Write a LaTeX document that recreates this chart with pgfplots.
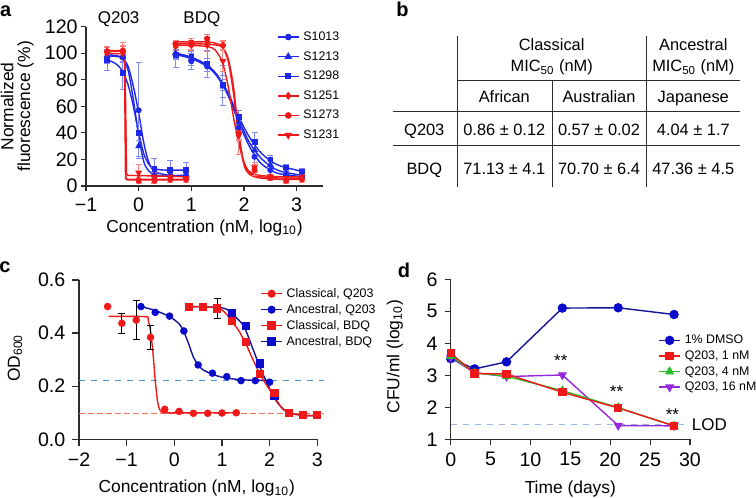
\documentclass[border=0pt]{standalone}
\usepackage{fontspec}
\setmainfont{Liberation Sans}
\usepackage{pgfplots}
\pgfplotsset{compat=1.18}
\definecolor{aBlue}{RGB}{30,40,235}
\definecolor{aRed}{RGB}{240,25,25}
\definecolor{cNavy}{RGB}{20,20,150}
\definecolor{cBlue}{RGB}{10,10,205}
\definecolor{dashBlue}{RGB}{70,150,210}
\definecolor{salmonline}{RGB}{248,110,90}
\definecolor{dGreen}{RGB}{40,190,40}
\definecolor{dPurple}{RGB}{150,40,220}
\definecolor{lodBlue}{RGB}{150,185,225}
\definecolor{axGray}{RGB}{45,45,45}
\pgfplotsset{
  gp/.style={scale only axis, anchor=south west,
    axis x line*=bottom, axis y line*=left,
    axis line style={-, axGray, line width=0.6pt},
    tick style={axGray, line width=0.6pt}, tick align=outside,
    tick label style={font=\fontsize{9.8}{10}\selectfont},
    /pgf/number format/assume math mode=true,
    label style={font=\fontsize{8.7}{8.3}\selectfont},
    clip=false, legend cell align=left,
    legend style={draw=none, fill=none, font=\fontsize{6.2}{7}\selectfont, inner sep=0pt,
      anchor=north west, nodes={inner ysep=0pt, text height=4.5pt, text depth=1pt}},
    legend image code/.code={\draw[mark repeat=2,mark phase=2] plot coordinates {(0pt,0pt) (5.2pt,0pt) (10.4pt,0pt)};},
  },
  ebA/.style={error bars/.cd, y dir=both, y explicit,
    error bar style={#1!55,line width=0.45pt},
    error mark options={#1!55,mark size=1.5pt,line width=0.45pt,rotate=90}},
  ebK/.style={error bars/.cd, y dir=both, y explicit,
    error bar style={black,line width=0.5pt},
    error mark options={black,mark size=1.8pt,line width=0.5pt,rotate=90}},
}
\begin{document}
\begin{tikzpicture}
\useasboundingbox (0,0) rectangle (378pt,249pt);
\node[font=\bfseries\fontsize{10}{12}\selectfont] at (2.8pt,243.5pt) {a};
\node[font=\bfseries\fontsize{10}{12}\selectfont] at (201.3pt,244.3pt) {b};
\node[font=\bfseries\fontsize{10}{12}\selectfont] at (2.5pt,115.5pt) {c};
\node[font=\bfseries\fontsize{10}{12}\selectfont] at (202pt,114pt) {d};

% ---------------- panel a ----------------
\begin{axis}[gp, at={(43pt,156pt)}, width=118.5pt, height=79.65pt,
  xmin=-1, xmax=3.5, ymin=0, ymax=120, major tick length=2.5pt,
  xtick={-1,0,1,2,3}, xticklabels={−1,0,1,2,3}, ytick={0,20,...,120},
  yticklabel style={inner xsep=1.5pt},
  xlabel={Concentration (nM, log\textsubscript{10})},
  xlabel style={at={(axis description cs:0.5,-0.264)}, anchor=center},
  ylabel={Normalized\\fluorescence (\%)},
  ylabel style={at={(axis description cs:-0.29,0.5)}, anchor=center, align=center},
  legend style={at={(axis description cs:0.805,0.972)}, row sep=4.3pt}]
\addlegendimage{aBlue, line width=0.7pt, mark=*, mark size=1.3pt}
\addlegendentry{S1013}
\addlegendimage{aBlue, line width=0.7pt, mark=triangle*, mark size=1.6pt}
\addlegendentry{S1213}
\addlegendimage{aBlue, line width=0.7pt, mark=square*, mark size=1.2pt}
\addlegendentry{S1298}
\addlegendimage{aRed, line width=0.7pt, mark=diamond*, mark size=1.5pt}
\addlegendentry{S1251}
\addlegendimage{aRed, line width=0.7pt, mark=*, mark size=1.3pt}
\addlegendentry{S1273}
\addlegendimage{aRed, line width=0.7pt, mark=triangle*, mark size=1.6pt, every mark/.append style={rotate=180}}
\addlegendentry{S1231}
% blue fits
\addplot[aBlue, line width=0.7pt, smooth, tension=0.5, forget plot] coordinates {(-0.6,98) (-0.4,97.5) (-0.3,96) (-0.2,90) (-0.1,75) (0,55) (0.1,32) (0.2,17) (0.3,11) (0.45,9) (0.6,8) (0.9,8)};
\addplot[aBlue, line width=0.7pt, smooth, tension=0.5, forget plot] coordinates {(-0.6,99) (-0.4,98) (-0.3,96) (-0.2,87) (-0.1,65) (0,38) (0.1,18) (0.2,11) (0.3,8.5) (0.5,7.5) (0.9,7.5)};
\addplot[aBlue, line width=0.7pt, smooth, tension=0.5, forget plot] coordinates {(-0.6,95) (-0.5,93.5) (-0.4,91) (-0.3,86) (-0.2,76) (-0.1,60) (0,40) (0.1,24) (0.2,16) (0.3,13) (0.5,12) (0.9,12)};
\addplot[aBlue, line width=0.7pt, smooth, tension=0.5, forget plot] coordinates {(0.7,99) (1.0,96) (1.3,90) (1.5,82) (1.7,68) (1.9,48) (2.1,30) (2.3,18) (2.5,12) (2.7,9) (3.1,7)};
\addplot[aBlue, line width=0.7pt, smooth, tension=0.5, forget plot] coordinates {(0.7,100) (1.0,97) (1.3,91) (1.5,83) (1.7,69) (1.9,50) (2.1,33) (2.3,22) (2.5,15) (2.7,11) (3.1,8)};
\addplot[aBlue, line width=0.7pt, smooth, tension=0.5, forget plot] coordinates {(0.7,100) (1.0,97) (1.3,91) (1.5,83) (1.7,70) (1.9,52) (2.1,37) (2.3,26) (2.5,19) (2.7,15) (3.1,11)};
% blue points
\addplot[aBlue, only marks, mark=*, mark size=1.3pt, forget plot, ebA=aBlue] coordinates {
 (-0.6,97) +- (0,5) (-0.3,97) +- (0,3) (0,57) +- (0,36) (0.3,8) +- (0,6) (0.6,8) +- (0,5) (0.9,8) +- (0,4)
 (0.7,99) +- (0,10) (1.0,94) +- (0,6) (1.3,90) +- (0,4) (1.6,76) +- (0,15) (1.9,44) +- (0,5) (2.2,22) +- (0,4) (2.5,12) +- (0,3) (2.8,8) +- (0,3) (3.1,7) +- (0,2)};
\addplot[aBlue, only marks, mark=triangle*, mark size=1.6pt, forget plot, ebA=aBlue] coordinates {
 (-0.6,98) +- (0,6) (-0.3,97) +- (0,4) (0,30) +- (0,8) (0.3,8) +- (0,3) (0.6,8) +- (0,3) (0.9,7) +- (0,2)
 (0.7,100) +- (0,4) (1.0,96) +- (0,5) (1.3,91) +- (0,5) (1.6,75) +- (0,8) (1.9,48) +- (0,5) (2.2,27) +- (0,4) (2.5,16) +- (0,3) (2.8,10) +- (0,2) (3.1,8) +- (0,2)};
\addplot[aBlue, only marks, mark=square*, mark size=1.2pt, forget plot, ebA=aBlue] coordinates {
 (-0.6,95) +- (0,8) (-0.3,85) +- (0,12) (0,40) +- (0,6) (0.3,13) +- (0,8) (0.6,12) +- (0,7) (0.9,12) +- (0,6)
 (0.7,99) +- (0,4) (1.0,97) +- (0,3) (1.3,92) +- (0,10) (1.6,76) +- (0,4) (1.9,52) +- (0,5) (2.2,33) +- (0,7) (2.5,20) +- (0,3) (2.8,14) +- (0,2) (3.1,11) +- (0,2)};
% red fits
\addplot[aRed, line width=0.7pt, forget plot] coordinates {(-0.6,102) (-0.3,102) (-0.27,100) (-0.25,6) (-0.22,5) (0.9,5)};
\addplot[aRed, line width=0.7pt, forget plot] coordinates {(-0.6,101.5) (-0.3,101.5) (-0.26,99) (-0.24,5) (-0.2,4.5) (0.9,4.5)};
\addplot[aRed, line width=0.7pt, forget plot] coordinates {(-0.6,100) (-0.28,99.5) (-0.26,96) (-0.23,9) (-0.2,8) (0.9,7)};
\addplot[aRed, line width=0.7pt, smooth, tension=0.5, forget plot] coordinates {(0.7,107) (1.2,107) (1.5,106) (1.6,104) (1.7,96) (1.8,75) (1.9,40) (2.0,17) (2.1,10) (2.3,7) (2.7,6) (3.1,6)};
\addplot[aRed, line width=0.7pt, smooth, tension=0.5, forget plot] coordinates {(0.7,108.5) (1.3,108.5) (1.5,107) (1.6,104) (1.7,94) (1.8,70) (1.9,38) (2.0,16) (2.1,9) (2.3,6) (2.7,5) (3.1,5)};
\addplot[aRed, line width=0.7pt, smooth, tension=0.5, forget plot] coordinates {(0.7,106) (1.2,105.5) (1.4,104) (1.5,100) (1.6,92) (1.7,75) (1.8,52) (1.9,32) (2.0,18) (2.1,11) (2.3,8) (2.7,7) (3.1,7)};
% red points
\addplot[aRed, only marks, mark=diamond*, mark size=1.5pt, forget plot, ebA=aRed] coordinates {
 (-0.6,102) +- (0,3) (-0.3,102) +- (0,4) (0,5) +- (0,2) (0.3,5) +- (0,2) (0.6,5) +- (0,2) (0.9,5) +- (0,2)
 (0.7,105) +- (0,3) (1.0,106) +- (0,3) (1.3,109) +- (0,3) (1.6,106) +- (0,3) (1.9,38) +- (0,4) (2.2,13) +- (0,3) (2.5,7) +- (0,2) (2.8,5) +- (0,2) (3.1,6) +- (0,2)};
\addplot[aRed, only marks, mark=*, mark size=1.3pt, forget plot, ebA=aRed] coordinates {
 (-0.6,101) +- (0,4) (-0.3,102) +- (0,6) (0,4) +- (0,2) (0.3,4) +- (0,2) (0.6,5) +- (0,2) (0.9,5) +- (0,2)
 (0.7,107) +- (0,3) (1.0,108) +- (0,3) (1.3,111) +- (0,3) (1.6,106) +- (0,4) (1.9,40) +- (0,5) (2.2,12) +- (0,4) (2.5,6) +- (0,2) (2.8,4) +- (0,2) (3.1,5) +- (0,2)};
\addplot[aRed, only marks, mark=triangle*, mark size=1.6pt, every mark/.append style={rotate=180}, forget plot, ebA=aRed] coordinates {
 (-0.6,100) +- (0,4) (-0.3,100) +- (0,5) (0,10) +- (0,6) (0.3,7) +- (0,3) (0.6,7) +- (0,3) (0.9,6) +- (0,2)
 (0.7,106) +- (0,4) (1.0,106) +- (0,4) (1.3,106) +- (0,5) (1.6,94) +- (0,8) (1.9,39) +- (0,15) (2.2,14) +- (0,4) (2.5,7) +- (0,2) (2.8,6) +- (0,2) (3.1,7) +- (0,2)};
\node[font=\fontsize{8.5}{10}\selectfont, anchor=center] at (axis cs:-0.38,126) {Q203};
\node[font=\fontsize{8.5}{10}\selectfont, anchor=center] at (axis cs:1.2,126) {BDQ};
\end{axis}

% ---------------- panel b (table) ----------------
\begin{scope}[axGray, line width=0.5pt]
\draw (228.65pt,231pt) -- (228.65pt,155.65pt);
\draw (276.15pt,208.65pt) -- (276.15pt,155.65pt);
\draw (323.35pt,231pt) -- (323.35pt,155.65pt);
\draw (228.65pt,208.65pt) -- (370pt,208.65pt);
\draw (196.65pt,193.15pt) -- (370pt,193.15pt);
\draw (196.65pt,176pt) -- (370pt,176pt);
\end{scope}
\begin{scope}[every node/.style={font=\fontsize{8.2}{10}\selectfont, anchor=base, inner sep=0pt}]
\node at (275.85pt,223.6pt) {Classical};
\node at (275.85pt,213.1pt) {MIC\textsubscript{50} (nM)};
\node at (346.65pt,223.6pt) {Ancestral};
\node at (346.65pt,213.1pt) {MIC\textsubscript{50} (nM)};
\node at (252.15pt,197.75pt) {African};
\node at (299.5pt,197.75pt) {Australian};
\node at (346.65pt,197.75pt) {Japanese};
\node at (212.15pt,181.1pt) {Q203};
\node at (252.15pt,181.1pt) {0.86 ± 0.12};
\node at (299.5pt,181.1pt) {0.57 ± 0.02};
\node at (346.65pt,181.1pt) {4.04 ± 1.7};
\node at (212.15pt,161.95pt) {BDQ};
\node at (252.15pt,161.95pt) {71.13 ± 4.1};
\node at (299.5pt,161.95pt) {70.70 ± 6.4};
\node at (346.65pt,161.95pt) {47.36 ± 4.5};
\end{scope}

% ---------------- panel c ----------------
\begin{axis}[gp, at={(39.5pt,29.35pt)}, width=119.15pt, height=79.65pt,
  xmin=-2, xmax=3, ymin=0, ymax=0.6, major tick length=3.3pt,
  xtick={-2,-1,0,1,2,3}, xticklabels={−2,−1,0,1,2,3},
  ytick={0,0.2,0.4,0.6}, yticklabels={0.0,0.2,0.4,0.6},
  xlabel={Concentration (nM, log\textsubscript{10})},
  xlabel style={at={(axis description cs:0.494,-0.308)}, anchor=center},
  ylabel={OD\textsubscript{600}},
  ylabel style={at={(axis description cs:-0.269,0.51)}, anchor=center},
  legend style={at={(axis description cs:0.76,0.951)}, row sep=2.5pt}]
\addlegendimage{aRed, line width=0.7pt, mark=*, mark size=1.67pt}
\addlegendentry{Classical, Q203}
\addlegendimage{cNavy, line width=0.7pt, mark=*, mark size=1.67pt, mark options={fill=cBlue, draw=cBlue}}
\addlegendentry{Ancestral, Q203}
\addlegendimage{aRed, line width=0.7pt, mark=square*, mark size=1.8pt}
\addlegendentry{Classical, BDQ}
\addlegendimage{cNavy, line width=0.7pt, mark=square*, mark size=1.8pt, mark options={fill=cBlue, draw=cBlue}}
\addlegendentry{Ancestral, BDQ}
\addplot[draw=dashBlue, dashed, line width=0.6pt, forget plot] coordinates {(-2,0.22) (3.15,0.22)};
\addplot[salmonline, no marks, dash pattern=on 3pt off 1.5pt, line width=0.7pt, forget plot] coordinates {(-2,0.097) (3.15,0.097)};
% ancestral Q203
\addplot[cNavy, line width=0.7pt, smooth, tension=0.5, forget plot] coordinates {(-0.7,0.50) (-0.4,0.485) (-0.1,0.462) (0.1,0.435) (0.2,0.405) (0.3,0.36) (0.4,0.31) (0.5,0.28) (0.6,0.262) (0.8,0.245) (1.0,0.234) (1.3,0.226) (1.7,0.222) (2.0,0.222)};
\addplot[cBlue, only marks, mark=*, mark size=1.67pt, forget plot] coordinates {(-0.7,0.50) (-0.4,0.478) (-0.1,0.464) (0.2,0.408) (0.5,0.28) (0.8,0.249) (1.1,0.236) (1.4,0.221) (1.7,0.221) (2.0,0.215)};
% ancestral BDQ
\addplot[cNavy, line width=0.7pt, smooth, tension=0.5, forget plot] coordinates {(0.3,0.50) (0.9,0.497) (1.1,0.49) (1.2,0.475) (1.4,0.44) (1.5,0.41) (1.65,0.34) (1.8,0.27) (1.95,0.21) (2.1,0.155) (2.25,0.12) (2.4,0.1) (2.7,0.09) (3.0,0.089)};
\addplot[cBlue, only marks, mark=square*, mark size=1.8pt, forget plot] coordinates {(0.3,0.50) (0.6,0.50) (0.9,0.495) (1.2,0.474) (1.5,0.427) (1.8,0.286) (2.1,0.163) (2.4,0.10) (2.7,0.092) (3.0,0.092)};
% classical BDQ
\addplot[aRed, line width=0.7pt, smooth, tension=0.5, forget plot] coordinates {(0.3,0.50) (0.9,0.495) (1.1,0.47) (1.2,0.445) (1.35,0.41) (1.5,0.36) (1.65,0.3) (1.8,0.245) (1.95,0.2) (2.1,0.16) (2.25,0.12) (2.4,0.1) (2.7,0.09) (3.0,0.089)};
\addplot[aRed, only marks, mark=square*, mark size=1.8pt, forget plot, ebK] coordinates {(0.3,0.50) +- (0,0) (0.6,0.50) +- (0,0) (0.9,0.493) +- (0,0.037) (1.2,0.447) +- (0,0.01) (1.5,0.368) +- (0,0.01) (1.8,0.245) +- (0,0) (2.1,0.176) +- (0,0) (2.4,0.10) +- (0,0) (2.7,0.092) +- (0,0) (3.0,0.092) +- (0,0)};
% classical Q203
\addplot[aRed, line width=0.7pt, smooth, tension=0.4, forget plot] coordinates {(-1.38,0.463) (-0.6,0.462) (-0.55,0.45) (-0.5,0.41) (-0.45,0.33) (-0.4,0.22) (-0.35,0.14) (-0.3,0.11) (-0.2,0.1) (0.5,0.1) (1.3,0.1)};
\addplot[aRed, only marks, mark=*, mark size=1.67pt, forget plot, ebK] coordinates {(-1.4,0.50) +- (0,0) (-1.1,0.437) +- (0,0.037) (-0.8,0.449) +- (0,0.073) (-0.5,0.384) +- (0,0.046) (-0.2,0.113) +- (0,0) (0.1,0.105) +- (0,0) (0.4,0.098) +- (0,0) (0.7,0.098) +- (0,0) (1.0,0.099) +- (0,0) (1.3,0.100) +- (0,0)};
\end{axis}

% ---------------- panel d ----------------
\begin{axis}[gp, at={(225.35pt,29.35pt)}, width=119.65pt, height=80pt,
  xmin=0, xmax=30, ymin=1, ymax=6, major tick length=3pt,
  xtick={0,5,...,30}, ytick={1,...,6},
  xlabel={Time (days)},
  xlabel style={at={(axis description cs:0.5,-0.308)}, anchor=center},
  ylabel={CFU/ml (log\textsubscript{10})},
  ylabel style={at={(axis description cs:-0.233,0.516)}, anchor=center},
  legend style={at={(axis description cs:0.867,0.655)}, row sep=2.3pt}]
\addlegendimage{cNavy, line width=0.7pt, mark=*, mark size=2pt, mark options={fill=cBlue, draw=cBlue}}
\addlegendentry{1\% DMSO}
\addlegendimage{aRed, line width=0.7pt, mark=square*, mark size=1.75pt}
\addlegendentry{Q203, 1 nM}
\addlegendimage{dGreen, line width=0.7pt, mark=triangle*, mark size=2pt}
\addlegendentry{Q203, 4 nM}
\addlegendimage{dPurple, line width=0.7pt, mark=triangle*, mark size=2pt, every mark/.append style={rotate=180}}
\addlegendentry{Q203, 16 nM}
\addplot[draw=lodBlue, dashed, line width=0.5pt, forget plot] coordinates {(0,1.47) (29.3,1.47)};
\addplot[cNavy, line width=0.7pt, mark=*, mark size=2pt, mark options={fill=cBlue, draw=cBlue}, forget plot] coordinates {(0,3.52) (3,3.2) (7,3.42) (14,5.1) (21,5.11) (28,4.9)};
\addplot[dPurple, line width=0.7pt, mark=triangle*, mark size=2pt, every mark/.append style={rotate=180}, forget plot] coordinates {(0,3.55) (3,3.08) (7,2.96) (14,3.01) (21,1.43) (28,1.42)};
\addplot[dGreen, line width=0.7pt, mark=triangle*, mark size=2pt, forget plot] coordinates {(0,3.6) (3,3.08) (7,2.97) (14,2.52) (21,1.99) (28,1.42)};
\addplot[aRed, line width=0.7pt, mark=square*, mark size=1.75pt, forget plot] coordinates {(0,3.69) (3,3.06) (7,3.04) (14,2.47) (21,1.98) (28,1.42)};
\node[font=\fontsize{8.5}{10}\selectfont, anchor=base] at (axis cs:13.8,3.27) {**};
\node[font=\fontsize{8.5}{10}\selectfont, anchor=base] at (axis cs:20.8,2.3) {**};
\node[font=\fontsize{8.5}{10}\selectfont, anchor=base] at (axis cs:27.8,1.6) {**};
\node[font=\fontsize{8.5}{10}\selectfont, anchor=west, inner sep=0pt] at (axis cs:30.2,1.47) {LOD};
\end{axis}
\end{tikzpicture}
\end{document}
